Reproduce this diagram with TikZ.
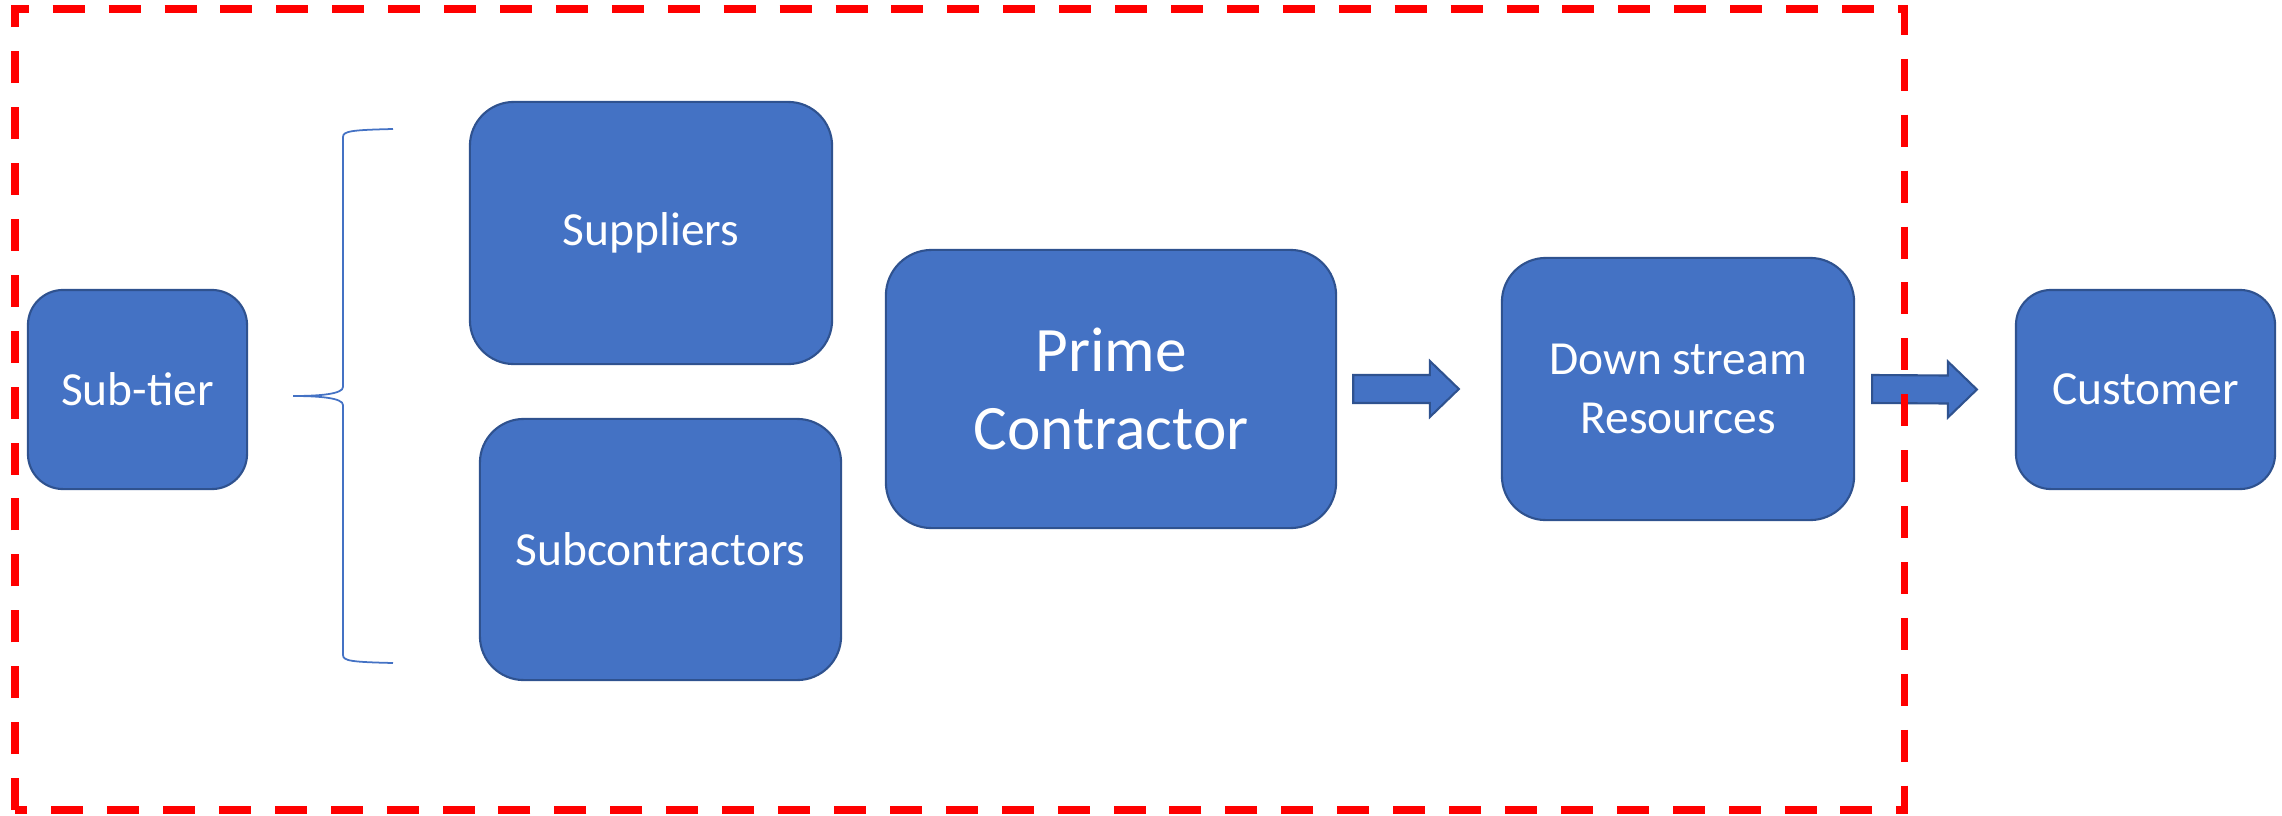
\documentclass[tikz,border=0pt]{standalone}
\usepackage{fontspec}
\setmainfont{Carlito}
\usepackage{xcolor}
\usepackage{tikz}
\usetikzlibrary{calc}
\definecolor{boxblue}{HTML}{4472C4}
\definecolor{boxline}{HTML}{2F528F}

\tikzset{
  block/.style={rectangle, fill=boxblue, draw=boxline, line width=0.6pt,
    text=white, align=center, inner sep=0pt,
    font=\fontsize{13.5}{17}\selectfont},
  arrowfill/.style={fill=boxblue, draw=boxline, line width=0.6pt},
  bracestyle/.style={draw=boxblue, line width=0.5pt},
  frame/.style={draw=red, line width=2pt, dash pattern=on 9.1pt off 6.8pt}
}

\newcommand{\blockarrow}[2]{%
  \filldraw[arrowfill] ($(#1)+(0,-14)$) -- ($(#2)+(-29,-14)$) -- ($(#2)+(-29,-28)$)
    -- (#2) -- ($(#2)+(-29,28)$) -- ($(#2)+(-29,14)$) -- ($(#1)+(0,14)$) -- cycle;}

\begin{document}
\begin{tikzpicture}[x=0.01cm, y=-0.01cm]
    \useasboundingbox (0,0) rectangle (2282,815);

    %KOTAK
    \node[block, minimum width=2.19cm, minimum height=1.99cm, rounded corners=10pt] (subtier) at (137.5,389.5) {Sub-tier};

    \node[block, minimum width=3.62cm, minimum height=2.62cm, rounded corners=12.5pt] (suppliers) at (651,233) {Suppliers};

    \node[block, minimum width=3.61cm, minimum height=2.61cm, rounded corners=12.5pt] (subcon) at (660.5,549.5) {Subcontractors};

    \node[block, minimum width=4.50cm, minimum height=2.78cm, rounded corners=13pt,
      font=\fontsize{18}{22}\selectfont] (prime) at (1111,389) {Prime\\Contractor};

    \node[block, minimum width=3.52cm, minimum height=2.62cm, rounded corners=12.5pt] (down) at (1678,389) {Down stream\\Resources};

    \node[block, minimum width=2.59cm, minimum height=1.99cm, rounded corners=10pt] (customer) at (2145.5,389.5) {Customer};

    %KURUNG
    \draw[bracestyle] (393,129) .. controls (352,130) and (343,131) .. (343,137)
      -- (343,387) .. controls (343,394) and (320,396) .. (293,396)
      .. controls (320,396) and (343,398) .. (343,405)
      -- (343,655) .. controls (343,661) and (352,662) .. (393,663);

    %PANAH
    \coordinate (a1s) at ($(prime.east)+(16,0)$);
    \coordinate (a1e) at ($(down.west)+(-42,0)$);
    \blockarrow{a1s}{a1e}

    \coordinate (a2s) at ($(down.east)+(17,0)$);
    \coordinate (a2e) at ($(customer.west)+(-38,0)$);
    \blockarrow{a2s}{a2e}

    %BINGKAI
    \draw[frame] (15,810) -- (15,9) -- (1904,9) -- (1904,810) -- cycle;

\end{tikzpicture}
\end{document}
